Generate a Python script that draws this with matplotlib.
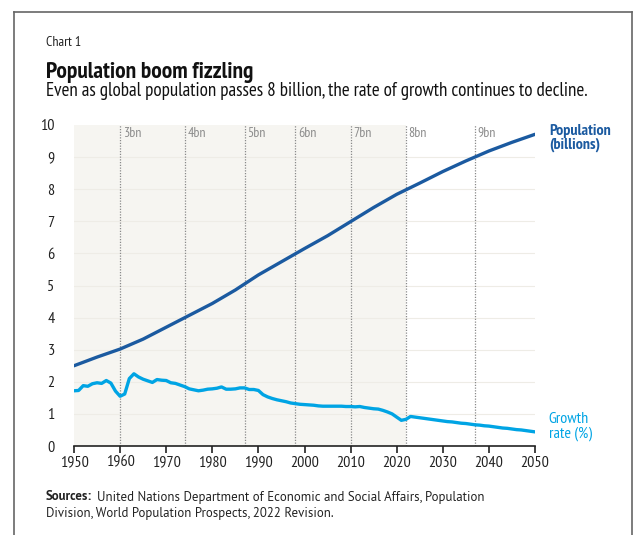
import numpy as np
import matplotlib.pyplot as plt
from matplotlib.patches import Rectangle

# --- data
pop_years = [1950, 1955, 1960, 1965, 1970, 1975, 1980, 1985, 1990, 1995,
             2000, 2005, 2010, 2015, 2020, 2022, 2025, 2030, 2035, 2040,
             2045, 2050]
pop_billions = [2.50, 2.77, 3.02, 3.33, 3.70, 4.07, 4.44, 4.86, 5.33, 5.74,
                6.15, 6.55, 6.99, 7.43, 7.84, 7.98, 8.19, 8.55, 8.88, 9.19,
                9.46, 9.71]

growth_years = list(range(1950, 2051))
growth_pct = [
    1.72, 1.73, 1.88, 1.86, 1.94, 1.97, 1.95, 2.04, 1.96, 1.71,  # 1950s
    1.55, 1.62, 2.10, 2.25, 2.15, 2.08, 2.03, 1.98, 2.07, 2.05,  # 1960s
    2.04, 1.97, 1.95, 1.90, 1.85, 1.78, 1.75, 1.72, 1.74, 1.77,  # 1970s
    1.78, 1.80, 1.84, 1.77, 1.77, 1.78, 1.81, 1.81, 1.76, 1.76,  # 1980s
    1.73, 1.60, 1.53, 1.48, 1.44, 1.41, 1.38, 1.34, 1.32, 1.30,  # 1990s
    1.29, 1.28, 1.27, 1.25, 1.24, 1.24, 1.24, 1.24, 1.24, 1.23,  # 2000s
    1.23, 1.22, 1.23, 1.20, 1.18, 1.16, 1.15, 1.11, 1.06, 1.00,  # 2010s
    0.90, 0.80, 0.83, 0.92, 0.90, 0.88, 0.86, 0.84, 0.82, 0.80,  # 2020s
    0.78, 0.76, 0.75, 0.73, 0.71, 0.70, 0.68, 0.66, 0.65, 0.63,  # 2030s
    0.62, 0.60, 0.58, 0.56, 0.55, 0.53, 0.51, 0.50, 0.48, 0.46,  # 2040s
    0.44,
]

milestone_years = [1960, 1974, 1987, 1998, 2010, 2022, 2037]
milestone_labels = ["3bn", "4bn", "5bn", "6bn", "7bn", "8bn", "9bn"]

POP_COLOR = "#1B5AA0"
GROWTH_COLOR = "#00A4E4"
SHADE_COLOR = "#F6F5F1"
NARROW = ["PT Sans Narrow", "DejaVu Sans"]
REGULAR = ["PT Sans", "Open Sans", "DejaVu Sans"]

fig = plt.figure(figsize=(6.35, 5.35), dpi=100)
fig.patch.set_facecolor("white")

# frame around the chart (no bottom edge)
fx0, fx1, fy1 = 14 / 635, 632 / 635, 1 - 12 / 535
for xs, ys in [([fx0, fx0], [0, fy1]), ([fx0, fx1], [fy1, fy1]),
               ([fx1, fx1], [0, fy1])]:
    fig.add_artist(plt.Line2D(xs, ys, transform=fig.transFigure,
                              color="#666666", lw=1.2))

ax = fig.add_axes([74 / 635, 1 - 446 / 535, 461 / 635, 321 / 535])
ax.set_facecolor("white")

# shaded historical period
ax.add_patch(Rectangle((1950, 0), 2022 - 1950, 10, color=SHADE_COLOR,
                       zorder=0, lw=0))

for y in range(1, 10):
    ax.axhline(y, color="#EEECE6", lw=0.8, zorder=1)

for yr, lab in zip(milestone_years, milestone_labels):
    ax.axvline(yr, color="#8A8A8A", lw=0.9, ls=(0, (1, 1.2)), zorder=2)
    ax.text(yr + 0.6, 9.72, lab, fontsize=10, color="#8C8C8C",
            family=NARROW, va="center", ha="left")

ax.plot(pop_years, pop_billions, color=POP_COLOR, lw=2.4, zorder=4,
        solid_capstyle="round")
ax.plot(growth_years, growth_pct, color=GROWTH_COLOR, lw=2.4, zorder=4,
        solid_capstyle="round")

ax.set_xlim(1950, 2050)
ax.set_ylim(0, 10)
ax.set_xticks(range(1950, 2051, 10))
ax.set_yticks(range(0, 11))

for side in ["top", "right", "left"]:
    ax.spines[side].set_visible(False)
ax.spines["bottom"].set_color("#222222")
ax.spines["bottom"].set_linewidth(1.2)
ax.tick_params(axis="y", length=0, pad=14)
ax.tick_params(axis="x", length=5, width=1.2, color="#222222", pad=2)
for lab in ax.get_xticklabels() + ax.get_yticklabels():
    lab.set_family(NARROW)
    lab.set_fontsize(11.5)
    lab.set_color("#222222")

ax.text(2053, 9.6, "Population\n(billions)", color=POP_COLOR, fontsize=11.5,
        family=NARROW, fontweight="bold", va="center", ha="left",
        linespacing=1.0, clip_on=False)
ax.text(2053, 0.6, "Growth\nrate (%)", color=GROWTH_COLOR, fontsize=11.5,
        family=NARROW, va="center", ha="left", linespacing=1.0,
        clip_on=False)

# titles
fig.text(46 / 635, 1 - 42 / 535, "Chart 1", fontsize=10, family=NARROW,
         color="#222222", va="center")
fig.text(46 / 635, 1 - 72 / 535, "Population boom fizzling", fontsize=16.8,
         family=NARROW, fontweight="bold", color="#111111", va="center")
fig.text(46 / 635, 1 - 91 / 535,
         "Even as global population passes 8 billion, the rate of growth continues to decline.",
         fontsize=13.7, family=NARROW, color="#111111", va="center")

# sources
fig.text(46 / 635, 1 - 497 / 535, "Sources:", fontsize=9.3, family=REGULAR,
         fontweight="bold", color="#222222", va="center")
fig.text(97 / 635, 1 - 497 / 535,
         "United Nations Department of Economic and Social Affairs, Population",
         fontsize=9.3, family=REGULAR, color="#222222", va="center")
fig.text(46 / 635, 1 - 514 / 535,
         "Division, World Population Prospects, 2022 Revision.",
         fontsize=9.3, family=REGULAR, color="#222222", va="center")

fig.savefig("out.png", dpi=100, facecolor="white")
